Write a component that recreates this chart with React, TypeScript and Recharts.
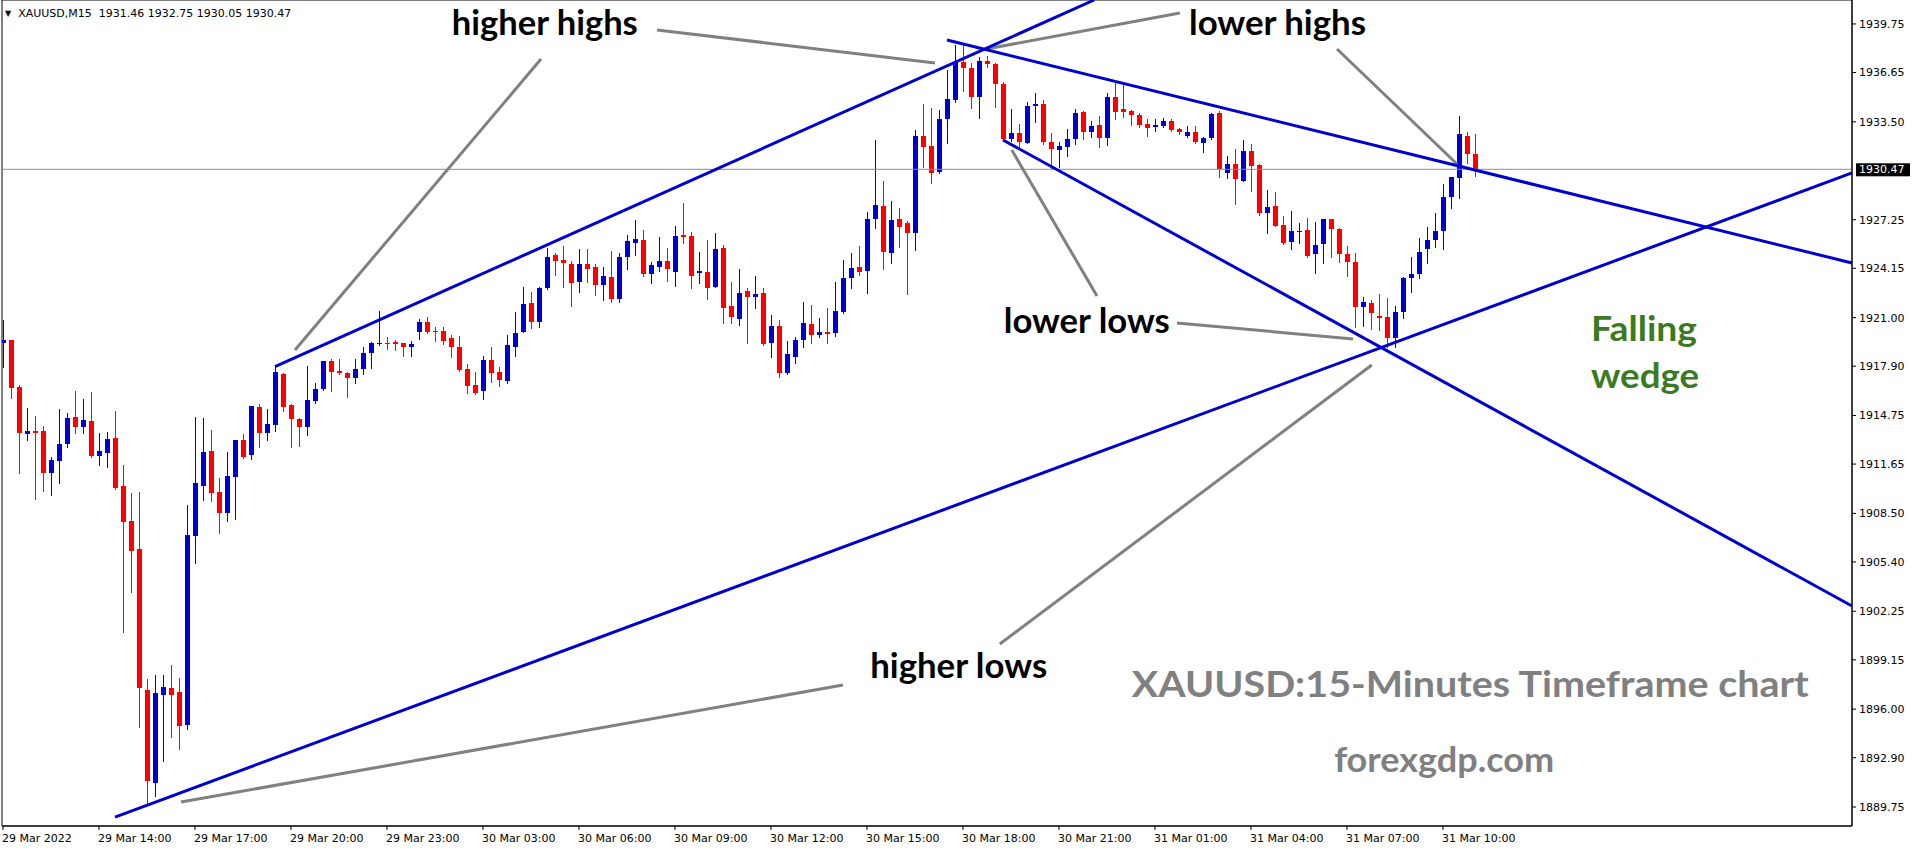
import { ComposedChart, Bar, XAxis, YAxis, ReferenceLine, ReferenceDot, ReferenceArea } from 'recharts';

// XAUUSD M15 candles, 29 Mar 11:00 .. 31 Mar 11:00
const open = [
  1919.36, 1919.57, 1916.55, 1913.55, 1913.76, 1913.76, 1911.06, 1911.87, 1912.93, 1914.68,
  1914.04, 1914.40, 1912.19, 1912.38, 1913.34, 1910.25, 1908.04, 1906.23, 1897.23, 1891.31,
  1896.91, 1897.37, 1897.12, 1894.99, 1907.06, 1910.25, 1912.51, 1909.89, 1908.51, 1910.85,
  1913.19, 1912.23, 1915.32, 1913.66, 1914.15, 1917.40, 1915.42, 1914.50, 1914.04, 1915.70,
  1916.44, 1918.25, 1917.59, 1917.48, 1917.12, 1917.70, 1918.72, 1919.29, 1919.40, 1919.46,
  1919.36, 1919.14, 1920.06, 1920.70, 1920.14, 1920.14, 1919.68, 1919.14, 1917.72, 1916.70,
  1916.31, 1918.29, 1917.51, 1916.95, 1919.14, 1920.10, 1921.91, 1920.74, 1922.91, 1925.00,
  1924.68, 1924.40, 1923.30, 1924.42, 1924.25, 1923.08, 1923.62, 1922.19, 1924.89, 1925.79,
  1925.96, 1923.78, 1924.25, 1924.62, 1923.93, 1926.27, 1926.21, 1923.83, 1923.93, 1922.98,
  1925.42, 1921.74, 1920.89, 1922.72, 1922.29, 1922.55, 1919.36, 1920.47, 1917.44, 1918.51,
  1919.57, 1920.57, 1919.89, 1920.06, 1920.00, 1921.38, 1923.55, 1924.25, 1924.00, 1927.30,
  1928.15, 1925.15, 1927.28, 1927.02, 1926.38, 1932.60, 1931.96, 1930.28, 1933.66, 1934.90,
  1937.30, 1936.92, 1935.07, 1937.39, 1937.20, 1935.92, 1932.39, 1932.77, 1932.17, 1934.52,
  1934.62, 1932.19, 1931.71, 1931.88, 1932.39, 1934.11, 1932.83, 1933.30, 1932.45, 1935.07,
  1934.30, 1934.22, 1933.94, 1933.34, 1933.15, 1933.24, 1933.58, 1933.05, 1932.62, 1932.83,
  1932.18, 1932.45, 1934.05, 1930.26, 1930.81, 1929.75, 1931.65, 1930.75, 1927.71, 1928.13,
  1926.92, 1925.81, 1926.47, 1926.60, 1925.05, 1925.68, 1927.28, 1926.66, 1925.07, 1924.54,
  1921.70, 1921.92, 1921.13, 1921.02, 1919.72, 1921.34, 1923.51, 1923.79, 1925.37, 1925.96,
  1926.54, 1928.69, 1929.94, 1932.60, 1931.46,
];
const high = [
  1920.85, 1919.60, 1916.70, 1915.25, 1914.74, 1914.08, 1912.13, 1915.17, 1914.94, 1916.34,
  1915.81, 1916.23, 1913.62, 1913.68, 1915.04, 1911.59, 1909.83, 1909.89, 1897.93, 1898.18,
  1898.18, 1898.82, 1898.01, 1909.04, 1914.68, 1914.62, 1913.83, 1910.78, 1912.44, 1913.19,
  1913.55, 1915.36, 1915.49, 1915.15, 1917.87, 1917.45, 1915.49, 1914.60, 1917.93, 1916.80,
  1918.25, 1918.36, 1918.36, 1917.50, 1918.36, 1919.14, 1919.46, 1921.42, 1919.78, 1919.57,
  1919.40, 1919.51, 1920.91, 1921.06, 1920.42, 1920.38, 1919.89, 1919.83, 1918.04, 1917.55,
  1918.55, 1919.14, 1917.87, 1919.89, 1921.38, 1922.93, 1922.61, 1922.93, 1925.42, 1925.10,
  1925.57, 1924.61, 1925.38, 1925.38, 1924.42, 1924.25, 1925.25, 1925.15, 1926.27, 1927.23,
  1926.59, 1924.57, 1926.17, 1925.42, 1926.85, 1928.30, 1926.49, 1925.17, 1925.96, 1926.42,
  1925.64, 1923.30, 1924.10, 1922.87, 1923.66, 1922.87, 1921.17, 1920.85, 1919.51, 1919.74,
  1921.98, 1921.81, 1921.00, 1921.64, 1923.26, 1924.68, 1925.15, 1925.60, 1927.77, 1932.34,
  1929.73, 1928.45, 1927.98, 1927.17, 1932.98, 1934.64, 1934.37, 1934.26, 1936.81, 1938.41,
  1938.52, 1937.24, 1937.67, 1937.71, 1937.24, 1936.03, 1934.32, 1933.37, 1934.75, 1935.37,
  1934.90, 1932.77, 1932.19, 1933.03, 1934.32, 1934.20, 1933.56, 1933.90, 1935.33, 1935.96,
  1935.86, 1934.26, 1934.05, 1933.66, 1933.71, 1933.77, 1933.69, 1933.09, 1933.24, 1933.24,
  1932.56, 1934.05, 1934.20, 1931.33, 1931.77, 1932.35, 1932.09, 1930.81, 1929.15, 1929.05,
  1927.49, 1927.81, 1927.07, 1927.35, 1927.09, 1927.30, 1927.30, 1926.75, 1925.60, 1925.11,
  1922.30, 1922.13, 1922.51, 1922.24, 1921.75, 1923.62, 1924.90, 1926.07, 1926.81, 1927.71,
  1929.54, 1929.96, 1933.88, 1932.84, 1932.75,
];
const low = [
  1917.87, 1915.85, 1911.06, 1913.19, 1909.42, 1909.95, 1909.68, 1910.47, 1912.76, 1913.62,
  1913.66, 1912.13, 1911.59, 1911.49, 1910.04, 1900.95, 1903.51, 1894.88, 1890.00, 1890.48,
  1892.69, 1894.25, 1893.46, 1894.74, 1905.31, 1909.36, 1909.29, 1907.27, 1908.04, 1908.15,
  1912.06, 1911.98, 1912.76, 1913.19, 1913.79, 1915.06, 1912.76, 1912.83, 1913.50, 1915.53,
  1916.38, 1916.33, 1917.40, 1915.95, 1916.80, 1917.40, 1917.80, 1919.25, 1919.00, 1918.93,
  1918.57, 1918.57, 1919.61, 1920.04, 1919.53, 1919.29, 1918.51, 1917.59, 1916.21, 1916.10,
  1915.78, 1916.91, 1916.65, 1916.80, 1918.57, 1920.08, 1920.32, 1920.42, 1922.83, 1923.72,
  1922.98, 1921.76, 1922.66, 1923.30, 1922.44, 1922.12, 1921.98, 1922.02, 1924.10, 1925.00,
  1923.68, 1923.19, 1924.00, 1923.36, 1923.04, 1925.79, 1922.91, 1923.19, 1922.19, 1922.95,
  1920.68, 1920.68, 1920.53, 1919.36, 1921.59, 1919.25, 1918.51, 1917.23, 1917.38, 1918.08,
  1919.15, 1919.40, 1919.74, 1919.40, 1919.83, 1921.32, 1922.87, 1923.72, 1922.55, 1926.70,
  1924.11, 1924.51, 1925.53, 1922.51, 1925.32, 1930.64, 1929.62, 1930.22, 1932.13, 1934.79,
  1935.49, 1934.41, 1933.73, 1937.03, 1934.47, 1932.34, 1932.28, 1931.92, 1932.15, 1933.52,
  1932.07, 1930.54, 1930.60, 1931.34, 1932.09, 1932.41, 1932.56, 1931.92, 1932.03, 1933.69,
  1933.79, 1933.30, 1933.15, 1932.62, 1932.92, 1933.15, 1932.94, 1932.73, 1932.56, 1932.17,
  1931.60, 1932.43, 1930.00, 1929.94, 1928.24, 1929.73, 1929.11, 1927.56, 1926.43, 1926.86,
  1925.71, 1925.37, 1925.75, 1924.90, 1923.83, 1924.47, 1924.85, 1924.58, 1923.66, 1920.43,
  1920.47, 1920.26, 1920.21, 1919.15, 1919.15, 1920.96, 1922.62, 1923.51, 1924.47, 1925.49,
  1925.37, 1928.03, 1928.62, 1930.86, 1930.05,
];
const close = [
  1919.57, 1916.53, 1913.62, 1913.76, 1913.66, 1911.06, 1911.91, 1912.93, 1914.62, 1914.04,
  1914.47, 1912.19, 1912.49, 1913.25, 1910.15, 1907.98, 1906.12, 1897.37, 1891.44, 1897.06,
  1897.44, 1896.91, 1894.93, 1907.12, 1910.47, 1912.44, 1909.83, 1908.51, 1910.89, 1913.19,
  1912.13, 1915.36, 1913.66, 1914.21, 1917.55, 1915.32, 1914.51, 1914.04, 1915.74, 1916.44,
  1918.25, 1917.55, 1917.48, 1917.12, 1917.72, 1918.72, 1919.36, 1919.36, 1919.32, 1919.32,
  1919.14, 1919.32, 1920.70, 1920.10, 1920.06, 1919.53, 1919.10, 1917.65, 1916.65, 1916.21,
  1918.29, 1917.44, 1917.02, 1919.25, 1920.04, 1921.87, 1920.74, 1922.91, 1924.85, 1924.64,
  1924.47, 1923.19, 1924.42, 1924.10, 1923.08, 1923.66, 1922.19, 1924.89, 1925.89, 1926.02,
  1923.78, 1924.36, 1924.62, 1924.10, 1926.21, 1926.17, 1923.66, 1923.98, 1922.87, 1925.38,
  1921.63, 1921.06, 1922.55, 1922.29, 1922.51, 1919.32, 1920.47, 1917.44, 1918.68, 1919.57,
  1920.64, 1919.89, 1920.06, 1919.96, 1921.43, 1923.55, 1924.19, 1923.89, 1927.30, 1928.19,
  1925.21, 1927.24, 1926.81, 1926.38, 1932.60, 1931.88, 1930.26, 1933.69, 1934.94, 1937.35,
  1936.92, 1935.07, 1937.41, 1937.20, 1935.90, 1932.39, 1932.77, 1932.24, 1934.52, 1934.64,
  1932.19, 1931.75, 1931.98, 1932.39, 1934.05, 1932.83, 1933.24, 1932.45, 1935.07, 1934.15,
  1934.15, 1933.94, 1933.30, 1933.13, 1933.30, 1933.58, 1932.98, 1932.83, 1932.83, 1932.24,
  1932.45, 1934.01, 1930.47, 1930.81, 1929.84, 1931.65, 1930.71, 1927.71, 1928.05, 1926.88,
  1925.79, 1926.54, 1926.54, 1924.96, 1925.64, 1927.28, 1926.64, 1925.05, 1924.54, 1921.70,
  1921.98, 1921.28, 1921.00, 1919.68, 1921.34, 1923.51, 1923.79, 1925.17, 1925.96, 1926.54,
  1928.69, 1929.96, 1932.73, 1931.43, 1930.47,
];

const xTicks = [0, 12, 24, 36, 48, 60, 72, 84, 96, 108, 120, 132, 144, 156, 168, 180];
const xLabels = [
  '29 Mar 2022', '29 Mar 14:00', '29 Mar 17:00', '29 Mar 20:00', '29 Mar 23:00',
  '30 Mar 03:00', '30 Mar 06:00', '30 Mar 09:00', '30 Mar 12:00', '30 Mar 15:00',
  '30 Mar 18:00', '30 Mar 21:00', '31 Mar 01:00', '31 Mar 04:00', '31 Mar 07:00', '31 Mar 10:00',
];
const yTicks = [
  1939.75, 1936.65, 1933.5, 1927.25, 1924.15, 1921.0, 1917.9, 1914.75,
  1911.65, 1908.5, 1905.4, 1902.25, 1899.15, 1896.0, 1892.9, 1889.75,
];
const lastPrice = 1930.47;

// trend lines: [index, price] pairs
const blueLines = [
  [[34, 1917.87], [136.4, 1941.28]],
  [[14, 1889.11], [231.125, 1930.24]],
  [[118, 1938.73], [231.125, 1924.49]],
  [[125, 1932.34], [231.125, 1902.59]],
];
const greyLines = [
  [[81.75, 1939.37], [116.5, 1937.26]],
  [[67.25, 1937.51], [36.5, 1918.93]],
  [[122.9, 1938.15], [147.1, 1940.45]],
  [[166.75, 1938.15], [181.75, 1930.81]],
  [[126.1, 1931.7], [136.75, 1922.38]],
  [[146.75, 1920.66], [168.75, 1919.64]],
  [[171.1, 1917.97], [124.6, 1900.16]],
  [[105, 1897.54], [22.25, 1890.07]],
];

const notes = [
  { text: 'higher highs', x: 56.1, y: 1939.05, color: '#000000', size: 34, w: 186 },
  { text: 'lower highs', x: 148.25, y: 1939.05, color: '#000000', size: 34, w: 177 },
  { text: 'lower lows', x: 125.1, y: 1920.02, color: '#000000', size: 34, w: 166 },
  { text: 'higher lows', x: 108.4, y: 1897.99, color: '#000000', size: 34, w: 177 },
  { text: 'Falling', x: 198.5, y: 1919.51, color: '#3C7A1F', size: 35, w: 106 },
  { text: 'wedge', x: 198.5, y: 1916.51, color: '#3C7A1F', size: 35, w: 108 },
  { text: 'XAUUSD:15-Minutes Timeframe chart', x: 141.1, y: 1896.77, color: '#808080', size: 36, w: 677 },
  { text: 'forexgdp.com', x: 166.4, y: 1891.99, color: '#808080', size: 35, w: 220 },
];

const BLUE = '#0000CD';
const RED = '#FF0000';

const candles = open.map((o, i) => ({
  idx: i,
  open: o,
  high: high[i],
  low: low[i],
  close: close[i],
  range: [low[i], high[i]],
}));

function Candle(props: any) {
  const { x, y, width, height, payload } = props;
  if (x == null || !payload) return null;
  const { open: o, high: h, low: l, close: c } = payload;
  const top = Math.min(y, y + height);
  const span = Math.abs(height);
  const k = span / (h - l);
  const cx = Math.round(x + width / 2);
  const color = c >= o ? BLUE : RED;
  const bTop = Math.round(top + (h - Math.max(o, c)) * k);
  const bBot = Math.round(top + (h - Math.min(o, c)) * k);
  return (
    <g shapeRendering="crispEdges">
      <line x1={cx + 0.5} x2={cx + 0.5} y1={Math.round(top)} y2={Math.round(top + span) + 1} stroke={color} strokeWidth={1} />
      <rect x={cx - 2} y={bTop} width={5} height={Math.max(1, bBot - bTop)} fill={color} />
    </g>
  );
}

function XTick(props: any) {
  const { x, y, payload } = props;
  const i = xTicks.indexOf(payload.value);
  return (
    <text x={x - 1} y={y + 10} fontFamily="DejaVu Sans" fontSize={11} fill="#000" textAnchor="start">
      {xLabels[i]}
    </text>
  );
}

function PriceTag(props: any) {
  const vb = props.viewBox;
  const x0 = vb.x + vb.width + 4;
  return (
    <g>
      <rect x={x0} y={vb.y - 6} width={54} height={13} fill="#000" />
      <text x={x0 + 3} y={vb.y + 4} fontFamily="DejaVu Sans" fontSize={11} fill="#fff">
        {lastPrice.toFixed(2)}
      </text>
    </g>
  );
}

const noteLabel = (n: typeof notes[number]) => (props: any) => {
  const vb = props.viewBox;
  return (
    <text
      x={vb.x}
      y={vb.y}
      fontFamily="Lato"
      fontWeight={700}
      fontSize={n.size}
      fill={n.color}
      textLength={n.w}
      lengthAdjust="spacingAndGlyphs"
    >
      {n.text}
    </text>
  );
};

export default function App() {
  return (
    <div style={{ position: 'relative', width: 1916, height: 850, background: '#fff' }}>
      <style>{'body{margin:0;}'}</style>
      <ComposedChart
        width={1916}
        height={850}
        data={candles}
        margin={{ top: 0, right: 0, bottom: 0, left: 2 }}
      >
        <XAxis
          dataKey="idx"
          type="number"
          domain={[-0.125, 231.125]}
          allowDataOverflow
          ticks={xTicks}
          interval={0}
          tick={<XTick />}
          tickSize={4}
          height={24}
          axisLine={{ stroke: '#000' }}
          tickLine={{ stroke: '#000' }}
        />
        <YAxis
          orientation="right"
          type="number"
          domain={[1888.54, 1941.28]}
          allowDataOverflow
          ticks={yTicks}
          interval={0}
          width={64}
          tickSize={4}
          tickMargin={3}
          tickFormatter={(v: number) => v.toFixed(2)}
          tick={{ fontFamily: 'DejaVu Sans', fontSize: 11, fill: '#000' }}
          axisLine={{ stroke: '#000' }}
          tickLine={{ stroke: '#000' }}
        />
        <ReferenceArea
          x1={-0.125}
          x2={231.125}
          y1={1888.54}
          y2={1941.28}
          fill="none"
          stroke="#000"
          ifOverflow="visible"
        />
        <ReferenceLine y={lastPrice} stroke="#8090A0" strokeWidth={1} label={PriceTag} />
        <Bar dataKey="range" barSize={5} isAnimationActive={false} shape={Candle} />
        {greyLines.map((s, i) => (
          <ReferenceLine
            key={'g' + i}
            segment={[{ x: s[0][0], y: s[0][1] }, { x: s[1][0], y: s[1][1] }]}
            stroke="#808080"
            strokeWidth={3}
            ifOverflow="visible"
          />
        ))}
        {blueLines.map((s, i) => (
          <ReferenceLine
            key={'b' + i}
            segment={[{ x: s[0][0], y: s[0][1] }, { x: s[1][0], y: s[1][1] }]}
            stroke={BLUE}
            strokeWidth={3}
            ifOverflow="visible"
          />
        ))}
        {notes.map((n) => (
          <ReferenceDot
            key={n.text}
            x={n.x}
            y={n.y}
            r={0}
            fill="none"
            stroke="none"
            ifOverflow="visible"
            label={noteLabel(n)}
          />
        ))}
      </ComposedChart>
      <div
        style={{
          position: 'absolute',
          left: 5,
          top: 7,
          fontFamily: 'DejaVu Sans',
          fontSize: 11,
          lineHeight: '13px',
          color: '#000',
          whiteSpace: 'pre',
        }}
      >
        <span style={{ fontSize: 8, verticalAlign: 1 }}>▼</span>
        {'  XAUUSD,M15  1931.46 1932.75 1930.05 1930.47'}
      </div>
    </div>
  );
}
